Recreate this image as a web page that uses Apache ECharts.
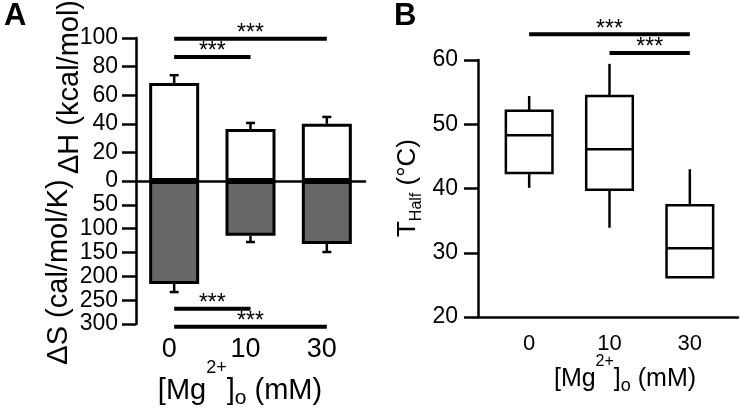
<!DOCTYPE html>
<html>
<head>
<meta charset="utf-8">
<script src="https://cdn.jsdelivr.net/npm/echarts@6/dist/echarts.min.js"></script>
<style>
html,body{margin:0;padding:0;background:#fff;}
#c{width:740px;height:412px;}
</style>
</head>
<body>
<div id="c"></div>
<script>
// ---- data ----
const categories = ['0', '10', '30'];
const dH = [68.5, 36.4, 40.0];          // kcal/mol
const dHErr = [5.5, 4.2, 4.8];
const dS = [216, 115, 132];             // cal/mol/K (plotted downward)
const dSErr = [17, 13, 17];
// [low whisker, Q1, median, Q3, high whisker]
const tHalf = [
  [40.1, 42.4, 48.3, 52.1, 54.4],
  [33.9, 39.8, 46.1, 54.4, 59.4],
  [26.2, 26.2, 30.7, 37.4, 43.0]
];
// significance bars: [from category, to category, level]
const sigH = [[0, 2, 99.5], [0, 1, 86.7]];
const sigS = [[0, 1, 268], [0, 2, 306]];
const sigT = [[0, 2, 64.0], [1, 2, 61.1]];
const sigLabel = '***';

const FONT = "'Liberation Sans', Arial, Helvetica, sans-serif";
const LW = 2.5;

function errRender(params, api) {
  const i = api.value(0), v = api.value(1), e = api.value(2);
  const p0 = api.coord([i, v]);
  const p1 = api.coord([i, v + e]);
  const st = {stroke: '#000', lineWidth: LW};
  return {type: 'group', children: [
    {type: 'line', shape: {x1: p0[0], y1: p0[1], x2: p1[0], y2: p1[1]}, style: st},
    {type: 'line', shape: {x1: p1[0] - 4.5, y1: p1[1], x2: p1[0] + 4.5, y2: p1[1]}, style: st}
  ]};
}
function sigRender(params, api) {
  const a = api.coord([api.value(0), api.value(2)]);
  const b = api.coord([api.value(1), api.value(2)]);
  return {type: 'group', children: [
    {type: 'line', shape: {x1: a[0], y1: a[1], x2: b[0], y2: b[1]}, style: {stroke: '#000', lineWidth: 4}},
    {type: 'text', x: (a[0] + b[0]) / 2, y: a[1] - 5,
     style: {text: sigLabel, fill: '#000', font: '23px ' + FONT, align: 'center', verticalAlign: 'middle'}}
  ]};
}
function boxRender(params, api) {
  const i = api.value(0);
  const pl = api.coord([i, api.value(1)]);
  const pq1 = api.coord([i, api.value(2)]);
  const pm = api.coord([i, api.value(3)]);
  const pq3 = api.coord([i, api.value(4)]);
  const ph = api.coord([i, api.value(5)]);
  const hw = api.size([1, 0])[0] * 0.29;
  const x = pm[0];
  const st = {stroke: '#000', lineWidth: LW, fill: null};
  return {type: 'group', children: [
    {type: 'line', shape: {x1: x, y1: ph[1], x2: x, y2: pq3[1]}, style: st},
    {type: 'line', shape: {x1: x, y1: pq1[1], x2: x, y2: pl[1]}, style: st},
    {type: 'rect', shape: {x: x - hw, y: pq3[1], width: 2 * hw, height: pq1[1] - pq3[1]},
     style: {stroke: '#000', lineWidth: LW, fill: '#fff'}},
    {type: 'line', shape: {x1: x - hw, y1: pm[1], x2: x + hw, y2: pm[1]}, style: st}
  ]};
}

// composite labels with super/subscripts: parts = [text, fontSize, baseline offset]
const mctx = document.createElement('canvas').getContext('2d');
function textWidth(t, size) { mctx.font = size + 'px ' + FONT; return mctx.measureText(t).width; }
function composite(parts, x, y, rotation) {
  const widths = parts.map(p => textWidth(p[0], p[1]));
  const total = widths.reduce((a, b) => a + b, 0);
  let cur = -total / 2;
  const children = parts.map((p, i) => {
    const el = {type: 'text', x: cur, y: p[2] - 0.35 * p[1],
      style: {text: p[0], font: p[1] + 'px ' + FONT, fill: '#000', align: 'left', verticalAlign: 'middle'}};
    cur += widths[i];
    return el;
  });
  return {type: 'group', x: x, y: y, rotation: rotation || 0, children: children};
}

const tickStyle = {show: true, inside: false, length: 14, lineStyle: {color: '#000', width: LW}};

const chart = echarts.init(document.getElementById('c'));
chart.setOption({
  animation: false,
  backgroundColor: '#fff',
  textStyle: {fontFamily: FONT},
  grid: [
    {left: 136, width: 229, top: 38, height: 143},   // ΔH
    {left: 136, width: 229, top: 181, height: 143},  // ΔS
    {left: 478, width: 260, top: 60, height: 257},   // B axes frame
    {left: 489, width: 241, top: 60, height: 257}    // B boxes
  ],
  xAxis: [
    {gridIndex: 0, type: 'category', data: categories, axisLine: {lineStyle: {color: '#000', width: LW}},
     axisTick: {show: false}, axisLabel: {show: false}},
    {gridIndex: 1, type: 'category', data: categories, axisLine: {show: false},
     axisTick: {show: false},
     axisLabel: {show: true, fontSize: 27, color: '#000', margin: 12, fontFamily: FONT, padding: [0, 10, 0, 0]}},
    {gridIndex: 2, type: 'value', min: 0, max: 1, axisLine: {show: true, lineStyle: {color: '#000', width: LW}},
     axisTick: {show: false}, axisLabel: {show: false}, splitLine: {show: false}},
    {gridIndex: 3, type: 'category', data: categories, axisLine: {show: false},
     axisTick: {show: false},
     axisLabel: {show: true, fontSize: 22, color: '#000', margin: 16, fontFamily: FONT}}
  ],
  yAxis: [
    {gridIndex: 0, type: 'value', min: 0, max: 100, interval: 20,
     axisLine: {show: true, lineStyle: {color: '#000', width: LW}}, axisTick: tickStyle,
     axisLabel: {fontSize: 23, color: '#000', margin: 18, fontFamily: FONT}, splitLine: {show: false}},
    {gridIndex: 1, type: 'value', min: 0, max: 300, interval: 50, inverse: true,
     axisLine: {show: true, lineStyle: {color: '#000', width: LW}}, axisTick: tickStyle,
     axisLabel: {fontSize: 23, color: '#000', margin: 18, fontFamily: FONT, showMinLabel: false}, splitLine: {show: false}},
    {gridIndex: 2, type: 'value', min: 20, max: 60, interval: 10,
     axisLine: {show: true, lineStyle: {color: '#000', width: LW}}, axisTick: tickStyle,
     axisLabel: {fontSize: 23, color: '#000', margin: 20, fontFamily: FONT}, splitLine: {show: false}},
    {gridIndex: 3, type: 'value', min: 20, max: 60, show: false, splitLine: {show: false}}
  ],
  series: [
    {type: 'bar', xAxisIndex: 0, yAxisIndex: 0, data: dH, barWidth: 50,
     itemStyle: {color: '#fff', borderColor: '#000', borderWidth: 3}},
    {type: 'bar', xAxisIndex: 1, yAxisIndex: 1, data: dS, barWidth: 50,
     itemStyle: {color: '#676767', borderColor: '#000', borderWidth: 3}},
    {type: 'custom', xAxisIndex: 0, yAxisIndex: 0, renderItem: errRender, clip: false,
     data: dH.map((v, i) => [i, v, dHErr[i]])},
    {type: 'custom', xAxisIndex: 1, yAxisIndex: 1, renderItem: errRender, clip: false,
     data: dS.map((v, i) => [i, v, dSErr[i]])},
    {type: 'custom', xAxisIndex: 0, yAxisIndex: 0, renderItem: sigRender, clip: false, data: sigH},
    {type: 'custom', xAxisIndex: 1, yAxisIndex: 1, renderItem: sigRender, clip: false, data: sigS},
    {type: 'custom', xAxisIndex: 3, yAxisIndex: 3, renderItem: boxRender, clip: false,
     data: tHalf.map((b, i) => [i].concat(b))},
    {type: 'custom', xAxisIndex: 3, yAxisIndex: 3, renderItem: sigRender, clip: false, data: sigT}
  ],
  graphic: [
    {type: 'text', x: 4, y: 1, style: {text: 'A', font: 'bold 31px ' + FONT, fill: '#000'}},
    {type: 'text', x: 394, y: 1, style: {text: 'B', font: 'bold 31px ' + FONT, fill: '#000'}},
    {type: 'text', x: 70, y: 87, rotation: Math.PI / 2,
     style: {text: 'ΔH (kcal/mol)', font: '29px ' + FONT, fill: '#000', align: 'center', verticalAlign: 'middle'}},
    {type: 'text', x: 59, y: 272, rotation: Math.PI / 2,
     style: {text: 'ΔS (cal/mol/K)', font: '29px ' + FONT, fill: '#000', align: 'center', verticalAlign: 'middle'}},
    composite([['[Mg', 29, 0], ['2+', 18, -27], [']', 29, 0], ['o', 21, 5], [' (mM)', 29, 0]], 240, 401, 0),
    composite([['[Mg', 25, 0], ['2+', 16, -21], [']', 25, 0], ['o', 18, 4], [' (mM)', 25, 0]], 625, 388, 0),
    composite([['T', 26, 0], ['Half', 16, 5], [' (°C)', 26, 0]], 417, 188, Math.PI / 2)
  ]
});
</script>
</body>
</html>
